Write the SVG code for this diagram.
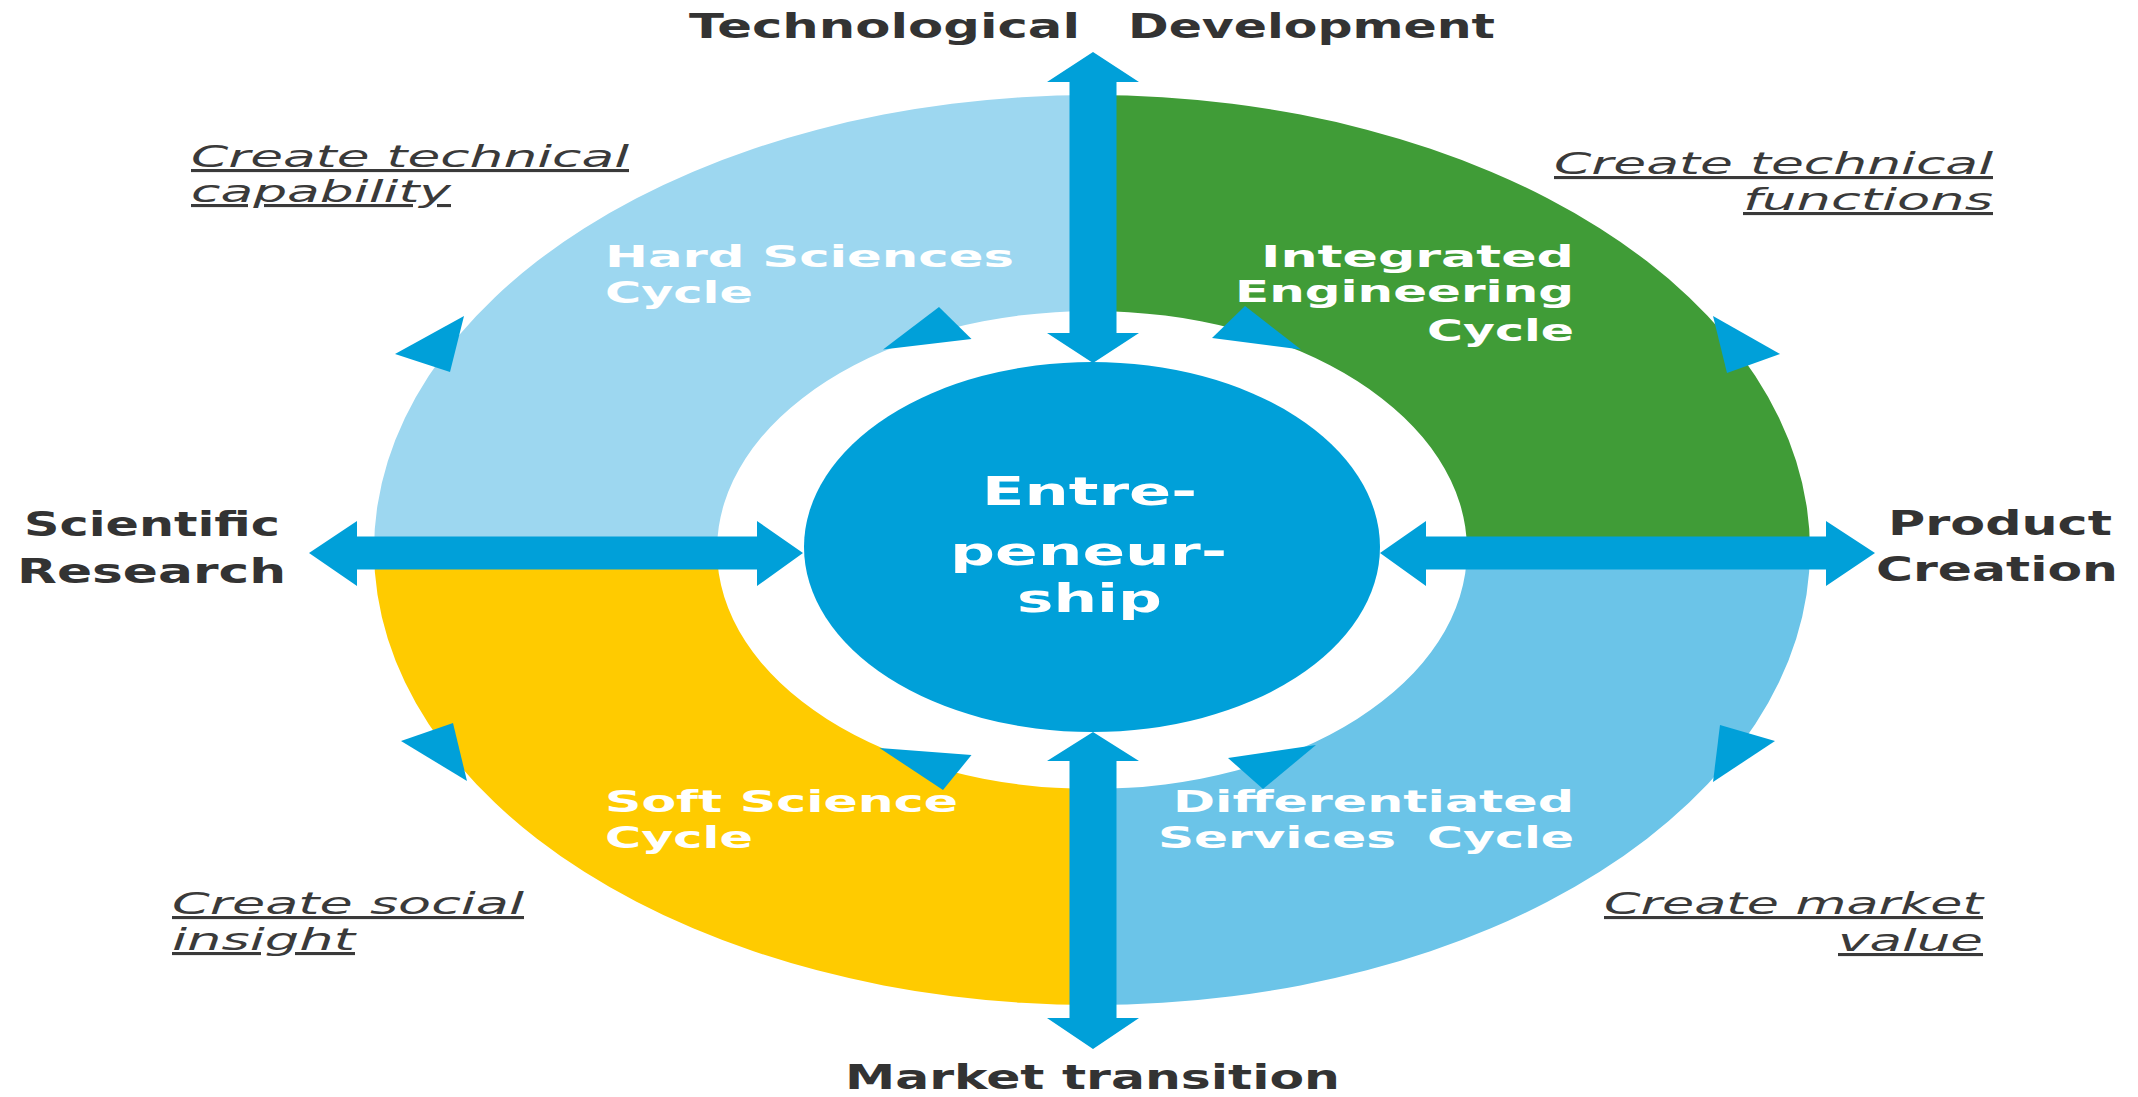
<svg xmlns="http://www.w3.org/2000/svg" width="2138" height="1097" viewBox="0 0 2138 1097">
<style>
text{font-family:"DejaVu Sans",Verdana,sans-serif}
.lbl{font-weight:bold;font-size:34px;fill:#333333}
.cyc{font-weight:bold;font-size:31px;fill:#ffffff}
.ital{font-style:italic;font-size:31px;fill:#3a3a3a;text-decoration:underline}
.ctr{font-weight:bold;font-size:39px;fill:#ffffff}
.arr{fill:#00A0D9}
</style>
<rect width="2138" height="1097" fill="#ffffff"/>
<g id="hard-sciences-cycle">
<path d="M374,550 A718,455 0 0 1 1092,95 L1092,311 A375,239 0 0 0 717,550 Z" fill="#9DD7F0"/>
<text class="cyc"><tspan x="605" y="267" textLength="409" lengthAdjust="spacingAndGlyphs">Hard Sciences</tspan><tspan x="605" y="303" textLength="148" lengthAdjust="spacingAndGlyphs">Cycle</tspan></text>
</g>
<g id="integrated-engineering-cycle">
<path d="M1092,95 A718,455 0 0 1 1810,550 L1467,550 A375,239 0 0 0 1092,311 Z" fill="#409C37"/>
<text class="cyc"><tspan x="1261" y="267" textLength="313" lengthAdjust="spacingAndGlyphs">Integrated</tspan><tspan x="1235" y="302" textLength="339" lengthAdjust="spacingAndGlyphs">Engineering</tspan><tspan x="1427" y="341" textLength="147" lengthAdjust="spacingAndGlyphs">Cycle</tspan></text>
</g>
<g id="soft-science-cycle">
<path d="M374,550 A718,455 0 0 0 1092,1005 L1092,789 A375,239 0 0 1 717,550 Z" fill="#FFCB00"/>
<text class="cyc"><tspan x="605" y="812" textLength="353" lengthAdjust="spacingAndGlyphs">Soft Science</tspan><tspan x="605" y="848" textLength="148" lengthAdjust="spacingAndGlyphs">Cycle</tspan></text>
</g>
<g id="differentiated-services-cycle">
<path d="M1092,1005 A718,455 0 0 0 1810,550 L1467,550 A375,239 0 0 1 1092,789 Z" fill="#6BC4E8"/>
<text class="cyc"><tspan x="1173" y="812" textLength="401" lengthAdjust="spacingAndGlyphs">Differentiated</tspan><tspan x="1158" y="848" textLength="238" lengthAdjust="spacingAndGlyphs">Services</tspan><tspan x="1427" y="848" textLength="147" lengthAdjust="spacingAndGlyphs">Cycle</tspan></text>
</g>
<g id="connectors">
<polygon class="arr" points="1093,52 1139,82 1116.5,82 1116.5,333 1139,333 1093,363 1047,333 1069.5,333 1069.5,82 1047,82"/>
<polygon class="arr" points="1093,732 1139,761 1116.5,761 1116.5,1018 1139,1018 1093,1049 1047,1018 1069.5,1018 1069.5,761 1047,761"/>
<polygon class="arr" points="309,553 357,521 357,536.5 757,536.5 757,521 803,553 757,586 757,569.5 357,569.5 357,586"/>
<polygon class="arr" points="1380,553 1426,521 1426,536.5 1826,536.5 1826,521 1875,553 1826,586 1826,569.5 1426,569.5 1426,586"/>
<polygon class="arr" points="464,316 395,354 450,372"/>
<polygon class="arr" points="939,307 883,349.5 971.5,339"/>
<polygon class="arr" points="1245,306 1212,338 1301,349.5"/>
<polygon class="arr" points="1713,316 1780,354 1727,373"/>
<polygon class="arr" points="453,723 401,741 467,781"/>
<polygon class="arr" points="879.5,748 971.5,755 943,790"/>
<polygon class="arr" points="1228,758 1316,745 1263,789"/>
<polygon class="arr" points="1720,725 1775,741 1713,782"/>
</g>
<g id="entrepreneurship">
<ellipse cx="1092" cy="547" rx="288" ry="185" fill="#00A0D9"/>
<text class="ctr"><tspan x="982" y="505" textLength="215" lengthAdjust="spacingAndGlyphs">Entre-</tspan><tspan x="950" y="565" textLength="277" lengthAdjust="spacingAndGlyphs">peneur-</tspan><tspan x="1017" y="612" textLength="145" lengthAdjust="spacingAndGlyphs">ship</tspan></text>
</g>
<g id="technological-development">
<text class="lbl"><tspan x="689" y="38" textLength="391" lengthAdjust="spacingAndGlyphs">Technological</tspan><tspan x="1128" y="38" textLength="367" lengthAdjust="spacingAndGlyphs">Development</tspan></text>
</g>
<g id="scientific-research">
<text class="lbl"><tspan x="24" y="536" textLength="256" lengthAdjust="spacingAndGlyphs">Scientific</tspan><tspan x="17" y="583" textLength="269" lengthAdjust="spacingAndGlyphs">Research</tspan></text>
</g>
<g id="product-creation">
<text class="lbl"><tspan x="1888" y="535" textLength="224" lengthAdjust="spacingAndGlyphs">Product</tspan><tspan x="1876" y="581" textLength="242" lengthAdjust="spacingAndGlyphs">Creation</tspan></text>
</g>
<g id="market-transition">
<text class="lbl" x="845" y="1089" font-size="33" textLength="495" lengthAdjust="spacingAndGlyphs">Market transition</text>
</g>
<g id="create-technical-capability">
<text class="ital"><tspan x="191" y="167" textLength="438" lengthAdjust="spacingAndGlyphs">Create technical</tspan><tspan x="191" y="202" textLength="260" lengthAdjust="spacingAndGlyphs">capability</tspan></text>
</g>
<g id="create-technical-functions">
<text class="ital"><tspan x="1554" y="174" textLength="439" lengthAdjust="spacingAndGlyphs">Create technical</tspan><tspan x="1743" y="210" textLength="250" lengthAdjust="spacingAndGlyphs">functions</tspan></text>
</g>
<g id="create-social-insight">
<text class="ital"><tspan x="172" y="914" textLength="352" lengthAdjust="spacingAndGlyphs">Create social</tspan><tspan x="172" y="950" textLength="183" lengthAdjust="spacingAndGlyphs">insight</tspan></text>
</g>
<g id="create-market-value">
<text class="ital"><tspan x="1604" y="914" textLength="379" lengthAdjust="spacingAndGlyphs">Create market</tspan><tspan x="1838" y="951" textLength="145" lengthAdjust="spacingAndGlyphs">value</tspan></text>
</g>
</svg>
